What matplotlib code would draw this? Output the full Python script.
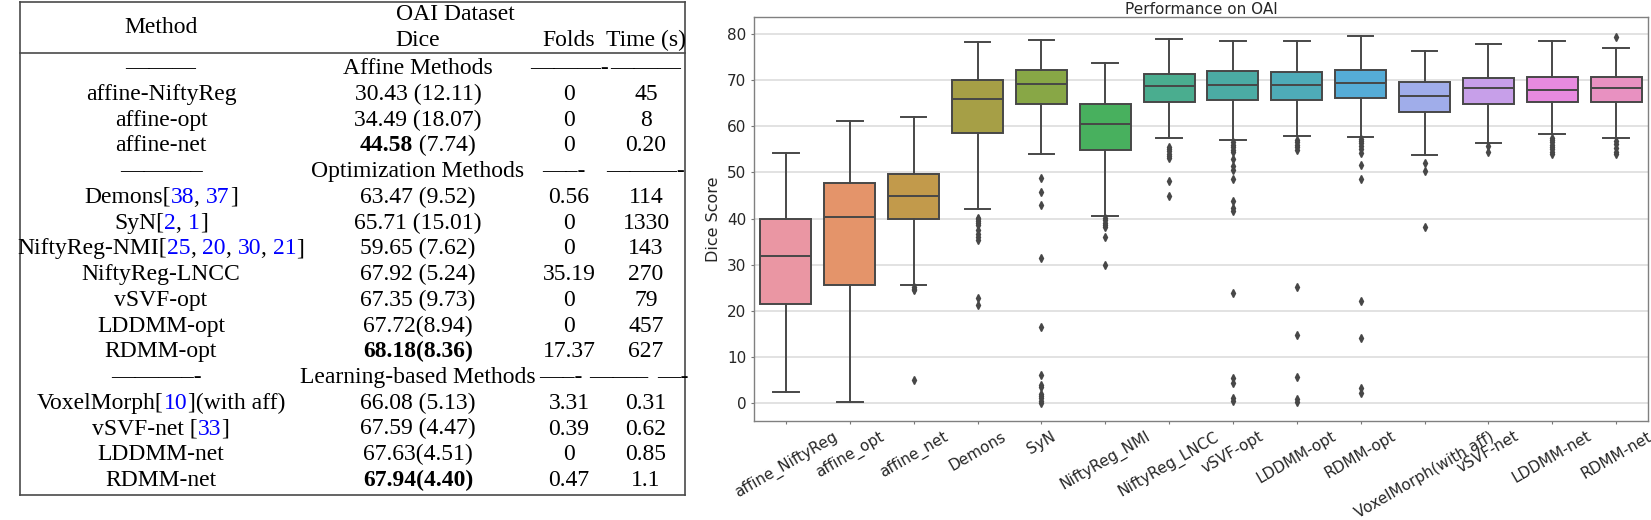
import colorsys
import matplotlib
matplotlib.use("Agg")
import matplotlib.pyplot as plt
import seaborn as sns

# ---------------- box plot data ----------------
methods = ["affine_NiftyReg", "affine_opt", "affine_net", "Demons", "SyN",
           "NiftyReg_NMI", "NiftyReg_LNCC", "vSVF-opt", "LDDMM-opt", "RDMM-opt",
           "VoxelMorph(with aff)", "vSVF-net", "LDDMM-net", "RDMM-net"]
q1 = [21.5, 25.6, 39.9, 58.6, 64.9, 54.9, 65.2, 65.8, 65.8, 66.2, 63.0, 64.8, 65.3, 65.3]
med = [31.9, 40.4, 44.8, 66.0, 69.2, 60.6, 68.7, 69.0, 69.0, 69.4, 66.5, 68.3, 67.9, 68.3]
q3 = [40.0, 47.8, 49.6, 70.1, 72.1, 64.9, 71.3, 71.9, 71.7, 72.1, 69.6, 70.5, 70.6, 70.6]
whislo = [2.4, 0.3, 25.6, 42.1, 54.1, 40.5, 57.4, 57.1, 58.0, 57.7, 53.8, 56.4, 58.3, 57.5]
whishi = [54.3, 61.1, 62.0, 78.3, 78.8, 73.8, 78.9, 78.6, 78.6, 79.6, 76.3, 77.8, 78.5, 76.9]
fliers = [
    [],
    [],
    [25.2, 24.8, 24.4, 5.0],
    [40.1, 39.8, 39.4, 39.0, 38.5, 37.6, 36.6, 35.9, 35.4, 22.7, 21.3],
    [48.8, 45.7, 43.0, 31.4, 16.5, 6.1, 3.8, 3.4, 2.0, 1.6, 1.0, 0.4, 0.0],
    [40.1, 39.6, 39.1, 38.6, 38.2, 36.0, 30.0],
    [55.6, 55.1, 54.6, 54.1, 53.6, 53.1, 48.1, 44.9],
    [56.6, 56.0, 55.5, 54.9, 54.4, 52.9, 51.4, 50.5, 48.5, 43.8, 42.2, 41.6,
     23.8, 5.4, 4.4, 1.0, 0.4],
    [57.0, 56.5, 56.0, 55.5, 54.9, 25.1, 14.7, 5.7, 0.9, 0.3],
    [57.3, 56.8, 56.3, 55.7, 55.0, 54.3, 51.7, 48.6, 22.1, 14.2, 3.3, 2.2],
    [52.1, 50.4, 38.2],
    [55.8, 54.5],
    [57.5, 57.0, 56.5, 56.0, 55.5, 55.0, 54.5, 54.1],
    [79.4, 56.8, 56.2, 55.4, 54.5, 54.0],
]

# ---------------- table data ----------------
groups = ["Affine Methods", "Optimization Methods", "Learning-based Methods"]
group_sizes = [3, 7, 4]
tab_method = ["affine-NiftyReg", "affine-opt", "affine-net",
              "Demons[38, 37]", "SyN[2, 1]", "NiftyReg-NMI[25, 20, 30, 21]",
              "NiftyReg-LNCC", "vSVF-opt", "LDDMM-opt", "RDMM-opt",
              "VoxelMorph[10](with aff)", "vSVF-net [33]", "LDDMM-net", "RDMM-net"]
tab_dice = ["30.43 (12.11)", "34.49 (18.07)", "**44.58** (7.74)",
            "63.47 (9.52)", "65.71 (15.01)", "59.65 (7.62)", "67.92 (5.24)",
            "67.35 (9.73)", "67.72(8.94)", "**68.18(8.36)**",
            "66.08 (5.13)", "67.59 (4.47)", "67.63(4.51)", "**67.94(4.40)**"]
tab_folds = ["0", "0", "0", "0.56", "0", "0", "35.19", "0", "0", "17.37",
             "3.31", "0.39", "0", "0.47"]
tab_time = ["45", "8", "0.20", "114", "1330", "143", "270", "79", "457", "627",
            "0.31", "0.62", "0.85", "1.1"]
# dash "rules" that the LaTeX source typed into the group rows
group_dashes = [
    [("\u2014\u2014\u2014", 161), ("\u2014\u2014\u2014-", 570), ("\u2014\u2014\u2014", 646)],
    [("\u2014\u2014\u2014\u2013", 161), ("\u2014\u2013-", 564), ("\u2014\u2014\u2014-", 646)],
    [("\u2014\u2014\u2014\u2013-", 156), ("\u2014\u2013-", 561), ("\u2014\u2014\u2013", 619),
     ("\u2014-", 673)],
]

W, H = 1651, 520
fig = plt.figure(figsize=(W / 100, H / 100), dpi=100)

# ---------------- left: table, drawn in pixel coordinates ----------------
tab = fig.add_axes([0, 0, 1, 1])
tab.set_xlim(0, W)
tab.set_ylim(H, 0)
tab.axis("off")

SERIF = "Liberation Serif"
FS = 17.0
col_x = {"method": 161, "dice": 418, "folds": 569, "time": 646}

line_kw = dict(color="#4a4a4a", lw=1.2, solid_capstyle="projecting")
tab.plot([20, 685], [2, 2], **line_kw)
tab.plot([20, 685], [53, 53], **line_kw)
tab.plot([20, 685], [495, 495], **line_kw)
tab.plot([20, 20], [2, 495], **line_kw)
tab.plot([685, 685], [2, 495], **line_kw)

fig.canvas.draw()
rend = fig.canvas.get_renderer()


def raw_width(s, weight):
    t = tab.text(0, 0, s, fontsize=FS, family=SERIF, weight=weight)
    w = t.get_window_extent(rend).width
    t.remove()
    return w


bar_w = {w: raw_width("|", w) for w in ("normal", "bold")}


def seg_width(s, weight):
    return raw_width(s + "|", weight) - bar_w[weight]


def segments(s):
    segs = []
    bold = inbr = False
    i = 0
    while i < len(s):
        if s.startswith("**", i):
            bold = not bold
            i += 2
            continue
        ch = s[i]
        if ch == "[":
            inbr = True
        elif ch == "]":
            inbr = False
        color = "#0000ff" if (inbr and ch.isdigit()) else "black"
        wt = "bold" if bold else "normal"
        if segs and segs[-1][1] == color and segs[-1][2] == wt:
            segs[-1][0] += ch
        else:
            segs.append([ch, color, wt])
        i += 1
    return segs


def cell(s, cx, y):
    segs = segments(s)
    widths = [seg_width(t, w) for t, c, w in segs]
    x = cx - sum(widths) / 2
    for (t, c, w), wd in zip(segs, widths):
        tab.text(x, y, t, fontsize=FS, family=SERIF, weight=w, color=c,
                 ha="left", va="baseline")
        x += wd


# header
cell("Method", col_x["method"], 33)
cell("OAI Dataset", 455, 20)
cell("Dice", col_x["dice"], 46)
cell("Folds", col_x["folds"], 46)
cell("Time (s)", col_x["time"], 46)

row_y0, row_h = 74.3, 25.73
r = 0
k = 0
for g, n, dashes in zip(groups, group_sizes, group_dashes):
    y = row_y0 + r * row_h
    for d, dx in dashes:
        cell(d, dx, y)
    cell(g, col_x["dice"], y)
    r += 1
    for _ in range(n):
        y = row_y0 + r * row_h
        cell(tab_method[k], col_x["method"], y)
        cell(tab_dice[k], col_x["dice"], y)
        cell(tab_folds[k], col_x["folds"], y)
        cell(tab_time[k], col_x["time"], y)
        r += 1
        k += 1

# ---------------- right: box plot ----------------
pal = [sns.desaturate(c, 0.75) for c in sns.husl_palette(len(methods), l=0.7)]
lum = min(colorsys.rgb_to_hls(*c)[1] for c in pal) * 0.6
gray = matplotlib.colors.rgb2hex((lum, lum, lum))

ax = fig.add_axes([754 / W, 1 - 421 / H, 894 / W, 404 / H])
stats = []
for i, m in enumerate(methods):
    stats.append(dict(label=m, med=med[i], q1=q1[i], q3=q3[i],
                      whislo=whislo[i], whishi=whishi[i], fliers=fliers[i]))
lw = 1.4
bp = ax.bxp(stats, positions=range(len(methods)), widths=0.8, patch_artist=True,
            boxprops=dict(edgecolor=gray, linewidth=lw),
            medianprops=dict(color=gray, linewidth=lw),
            whiskerprops=dict(color=gray, linewidth=lw),
            capprops=dict(color=gray, linewidth=lw),
            flierprops=dict(marker="d", markerfacecolor=gray, markeredgecolor=gray,
                            markersize=4, linestyle="none"))
for patch, c in zip(bp["boxes"], pal):
    patch.set_facecolor(c)

ax.set_xlim(-0.5, len(methods) - 0.5)
ax.set_ylim(-3.9, 83.7)
ax.set_xticks(range(len(methods)))
ax.set_xticklabels(methods, rotation=30, fontsize=11, color="#262626")
ax.set_yticks(range(0, 81, 10))
ax.tick_params(axis="y", labelsize=11, labelcolor="#262626")
ax.tick_params(length=2.5, width=0.8, color="#777777", pad=3)
ax.set_axisbelow(True)
ax.grid(axis="y", color="#dddddd", lw=1.2)
for sp in ax.spines.values():
    sp.set_color("#808080")
    sp.set_linewidth(1.0)
ax.set_ylabel("Dice Score", fontsize=11.5, color="#262626")
ax.set_title("Performance on OAI", fontsize=11, pad=1.5, color="#262626")

fig.savefig("out.png", dpi=100)
